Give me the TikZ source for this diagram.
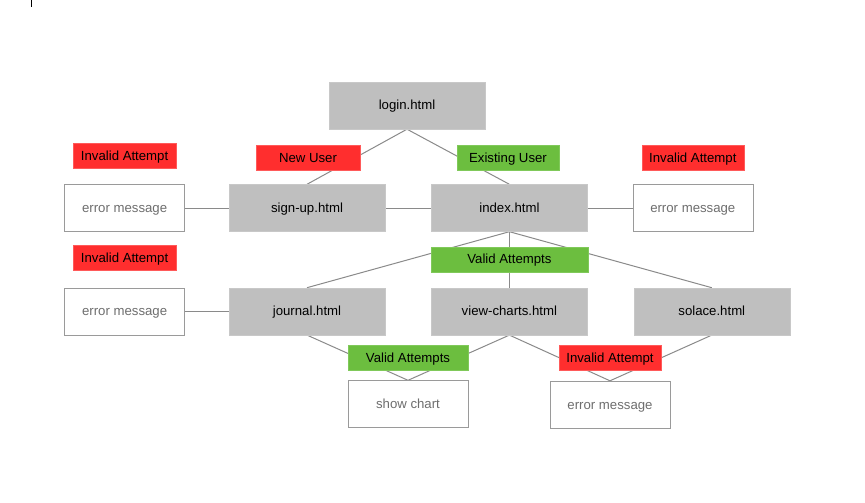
\documentclass[tikz,border=0pt]{standalone}
\usepackage{fontspec}
\setmainfont{Liberation Sans}
\usetikzlibrary{positioning,backgrounds}
\definecolor{pagefill}{HTML}{BFBFBF}
\definecolor{pageline}{HTML}{C8C8C8}
\definecolor{msgline}{HTML}{9A9A9A}
\definecolor{msgtext}{HTML}{6E6E6E}
\definecolor{badfill}{HTML}{FF2E2E}
\definecolor{badline}{HTML}{FF5A5A}
\definecolor{goodfill}{HTML}{6CBE3F}
\definecolor{goodline}{HTML}{80C95A}
\definecolor{linkgray}{HTML}{8A8A8A}

\begin{document}
\begin{tikzpicture}[x=1pt,y=1pt,
  every node/.style={inner sep=0pt, text height=10pt, text depth=1pt, font=\fontsize{13.2}{15}\selectfont},
  page/.style={draw=pageline, fill=pagefill, minimum width=156pt, minimum height=47pt},
  msg/.style={draw=msgline, fill=white, text=msgtext, minimum width=120pt, minimum height=47pt},
  bad/.style={draw=badline, fill=badfill, minimum height=25pt},
  good/.style={draw=goodline, fill=goodfill, minimum height=25pt},
  link/.style={draw=linkgray, line width=1pt}]
\useasboundingbox (0,0) rectangle (865,-503);
\draw[line width=1pt] (31.5,0) -- (31.5,-7);

\node[page] (login) at (407,-105.5) {login.html};
\node[page] (signup) at (307,-208) {sign-up.html};
\node[page, right=46pt of signup] (index) {index.html};
\node[msg, left=44pt of signup] (errsignup) {error message};
\node[msg, right=45pt of index] (errindex) {error message};
\node[page, below=56pt of signup] (journal) {journal.html};
\node[page, right=46pt of journal] (charts) {view-charts.html};
\node[page, right=46pt of charts] (solace) {solace.html};
\node[msg, left=44pt of journal] (errjournal) {error message};
\node[msg] (showchart) at (408,-404) {show chart};
\node[msg] (errcharts) at (610,-404.5) {error message};

\node[bad, minimum width=104pt] (newuser) at (308,-157.5) {New User};
\node[good, minimum width=102pt] (existing) at (508,-157.5) {Existing User};
\node[bad, minimum width=103pt, above=16pt of errsignup] (invsignup) {Invalid Attempt};
\node[bad, minimum width=102pt, above=14pt of errindex] (invindex) {Invalid Attempt};
\node[bad, minimum width=103pt, above=17pt of errjournal] (invjournal) {Invalid Attempt};
\node[good, minimum width=157pt, below=15pt of index] (valid) {Valid Attempts};
\node[good, minimum width=120pt, above=10pt of showchart] (validchart) {Valid Attempts};
\node[bad, minimum width=102pt, above=10pt of errcharts] (invchart) {Invalid Attempt};

\begin{scope}[on background layer]
\draw[link] (signup.north) -- (login.south) -- (index.north);
\draw[link] (errsignup.east) -- (signup.west);
\draw[link] (signup.east) -- (index.west);
\draw[link] (index.east) -- (errindex.west);
\draw[link] (index.south) -- (journal.north);
\draw[link] (index.south) -- (charts.north);
\draw[link] (index.south) -- (solace.north);
\draw[link] (errjournal.east) -- (journal.west);
\draw[link] (journal.south) -- (showchart.north) -- (charts.south) -- (errcharts.north) -- (solace.south);
\end{scope}
\end{tikzpicture}
\end{document}
